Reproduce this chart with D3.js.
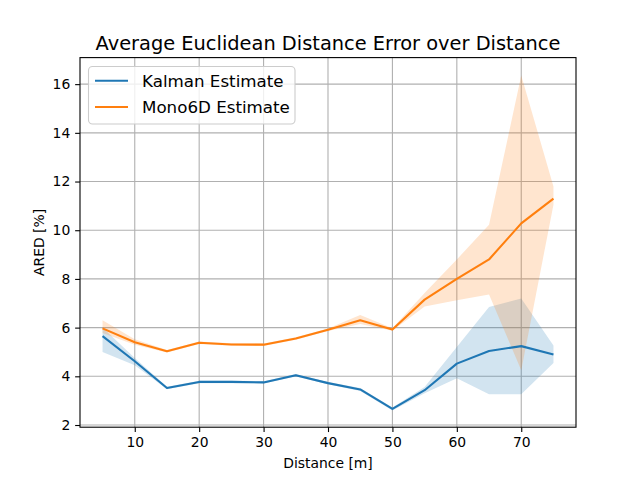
<!DOCTYPE html>
<html>
<head>
<meta charset="utf-8">
<script src="https://cdn.jsdelivr.net/npm/d3@7"></script>
<style>
  body { margin: 0; background: #fff; }
  text { font-family: "DejaVu Sans", sans-serif; }
</style>
</head>
<body>
<svg id="chart" width="640" height="480"></svg>
<script>
const distances = [5, 10, 15, 20, 25, 30, 35, 40, 45, 50, 55, 60, 65, 70, 75];
const kalmanMean  = [5.65, 4.62, 3.52, 3.77, 3.77, 3.75, 4.04, 3.72, 3.46, 2.66, 3.43, 4.52, 5.04, 5.24, 4.90];
const kalmanLower = [5.00, 4.45, 3.47, 3.72, 3.72, 3.70, 3.99, 3.67, 3.40, 2.60, 3.30, 3.92, 3.26, 3.26, 4.55];
const kalmanUpper = [6.00, 4.75, 3.57, 3.82, 3.82, 3.80, 4.09, 3.77, 3.52, 2.72, 3.56, 5.20, 6.85, 7.20, 5.27];
const monoMean    = [5.97, 5.40, 5.03, 5.38, 5.31, 5.30, 5.55, 5.91, 6.30, 5.92, 7.15, 8.00, 8.80, 10.28, 11.30];
const monoLower   = [5.78, 5.30, 4.98, 5.33, 5.26, 5.25, 5.50, 5.86, 6.15, 5.87, 6.87, 7.12, 7.36, 4.25, 11.05];
const monoUpper   = [6.30, 5.52, 5.08, 5.43, 5.36, 5.35, 5.60, 5.96, 6.52, 5.97, 7.42, 8.80, 10.22, 16.35, 11.80];
const xTicks = [10, 20, 30, 40, 50, 60, 70];
const yTicks = [2, 4, 6, 8, 10, 12, 14, 16];
const seriesNames = ["Kalman Estimate", "Mono6D Estimate"];
const seriesColors = ["#1f77b4", "#ff7f0e"];

const svg = d3.select("#chart");
const L = 80, R = 576, T = 57.6, B = 427.2;

const x = d3.scaleLinear().domain([1.5, 78.5]).range([L, R]);
const y = d3.scaleLinear().domain([1.91, 17.09]).range([B, T]);

// grid
const g = svg.append("g");
g.selectAll("line.gx").data(xTicks).join("line")
  .attr("x1", d => x(d)).attr("x2", d => x(d)).attr("y1", T).attr("y2", B)
  .attr("stroke", "#b0b0b0").attr("stroke-width", 1.1);
g.selectAll("line.gy").data(yTicks).join("line")
  .attr("y1", d => y(d)).attr("y2", d => y(d)).attr("x1", L).attr("x2", R)
  .attr("stroke", "#b0b0b0").attr("stroke-width", 1.1);

const series = [
  { mean: kalmanMean, lo: kalmanLower, hi: kalmanUpper },
  { mean: monoMean, lo: monoLower, hi: monoUpper }
];

const area = d3.area().x(d => x(d.x)).y0(d => y(d.lo)).y1(d => y(d.hi));
const line = d3.line().x(d => x(d.x)).y(d => y(d.v));

series.forEach((s, i) => {
  const pts = distances.map((dx, j) => ({ x: dx, lo: s.lo[j], hi: s.hi[j], v: s.mean[j] }));
  svg.append("path").datum(pts).attr("d", area)
    .attr("fill", seriesColors[i]).attr("fill-opacity", 0.2).attr("stroke", "none");
});
series.forEach((s, i) => {
  const pts = distances.map((dx, j) => ({ x: dx, v: s.mean[j] }));
  svg.append("path").datum(pts).attr("d", line)
    .attr("fill", "none").attr("stroke", seriesColors[i]).attr("stroke-width", 2.08)
    .attr("stroke-linejoin", "round").attr("stroke-linecap", "butt");
});

// spines
svg.append("rect").attr("x", L).attr("y", T).attr("width", R - L).attr("height", B - T)
  .attr("fill", "none").attr("stroke", "#000").attr("stroke-width", 1.1);

// axes
const xAxis = d3.axisBottom(x).tickValues(xTicks).tickSize(4.86).tickPadding(4.86).tickFormat(d3.format("d"));
const yAxis = d3.axisLeft(y).tickValues(yTicks).tickSize(4.86).tickPadding(4.86).tickFormat(d3.format("d"));
const gx = svg.append("g").attr("transform", `translate(0,${B})`).call(xAxis);
const gy = svg.append("g").attr("transform", `translate(${L},0)`).call(yAxis);
[gx, gy].forEach(a => {
  a.select(".domain").remove();
  a.selectAll(".tick line").attr("stroke", "#000").attr("stroke-width", 1.1);
  a.selectAll(".tick text").attr("font-family", "DejaVu Sans").attr("font-size", 13.9).attr("fill", "#000");
});

// title and labels
svg.append("text").attr("x", (L + R) / 2).attr("y", 50).attr("text-anchor", "middle")
  .attr("font-size", 19.4).text("Average Euclidean Distance Error over Distance");
svg.append("text").attr("x", (L + R) / 2).attr("y", 468).attr("text-anchor", "middle")
  .attr("font-size", 13.9).text("Distance [m]");
svg.append("text").attr("transform", `translate(44,${(T + B) / 2}) rotate(-90)`).attr("text-anchor", "middle")
  .attr("font-size", 13.9).text("ARED [%]");

// legend
const lg = svg.append("g");
lg.append("rect").attr("x", 88.5).attr("y", 66.5).attr("width", 206.5).attr("height", 57.5)
  .attr("rx", 4).attr("fill", "#fff").attr("fill-opacity", 0.8).attr("stroke", "#cccccc").attr("stroke-width", 1.1);
seriesNames.forEach((n, i) => {
  const yy = 80.7 + i * 26.3;
  lg.append("line").attr("x1", 95).attr("x2", 128).attr("y1", yy).attr("y2", yy)
    .attr("stroke", seriesColors[i]).attr("stroke-width", 2.08);
  lg.append("text").attr("x", 142).attr("y", yy + 6).attr("font-size", 16.7).text(n);
});
</script>
</body>
</html>
